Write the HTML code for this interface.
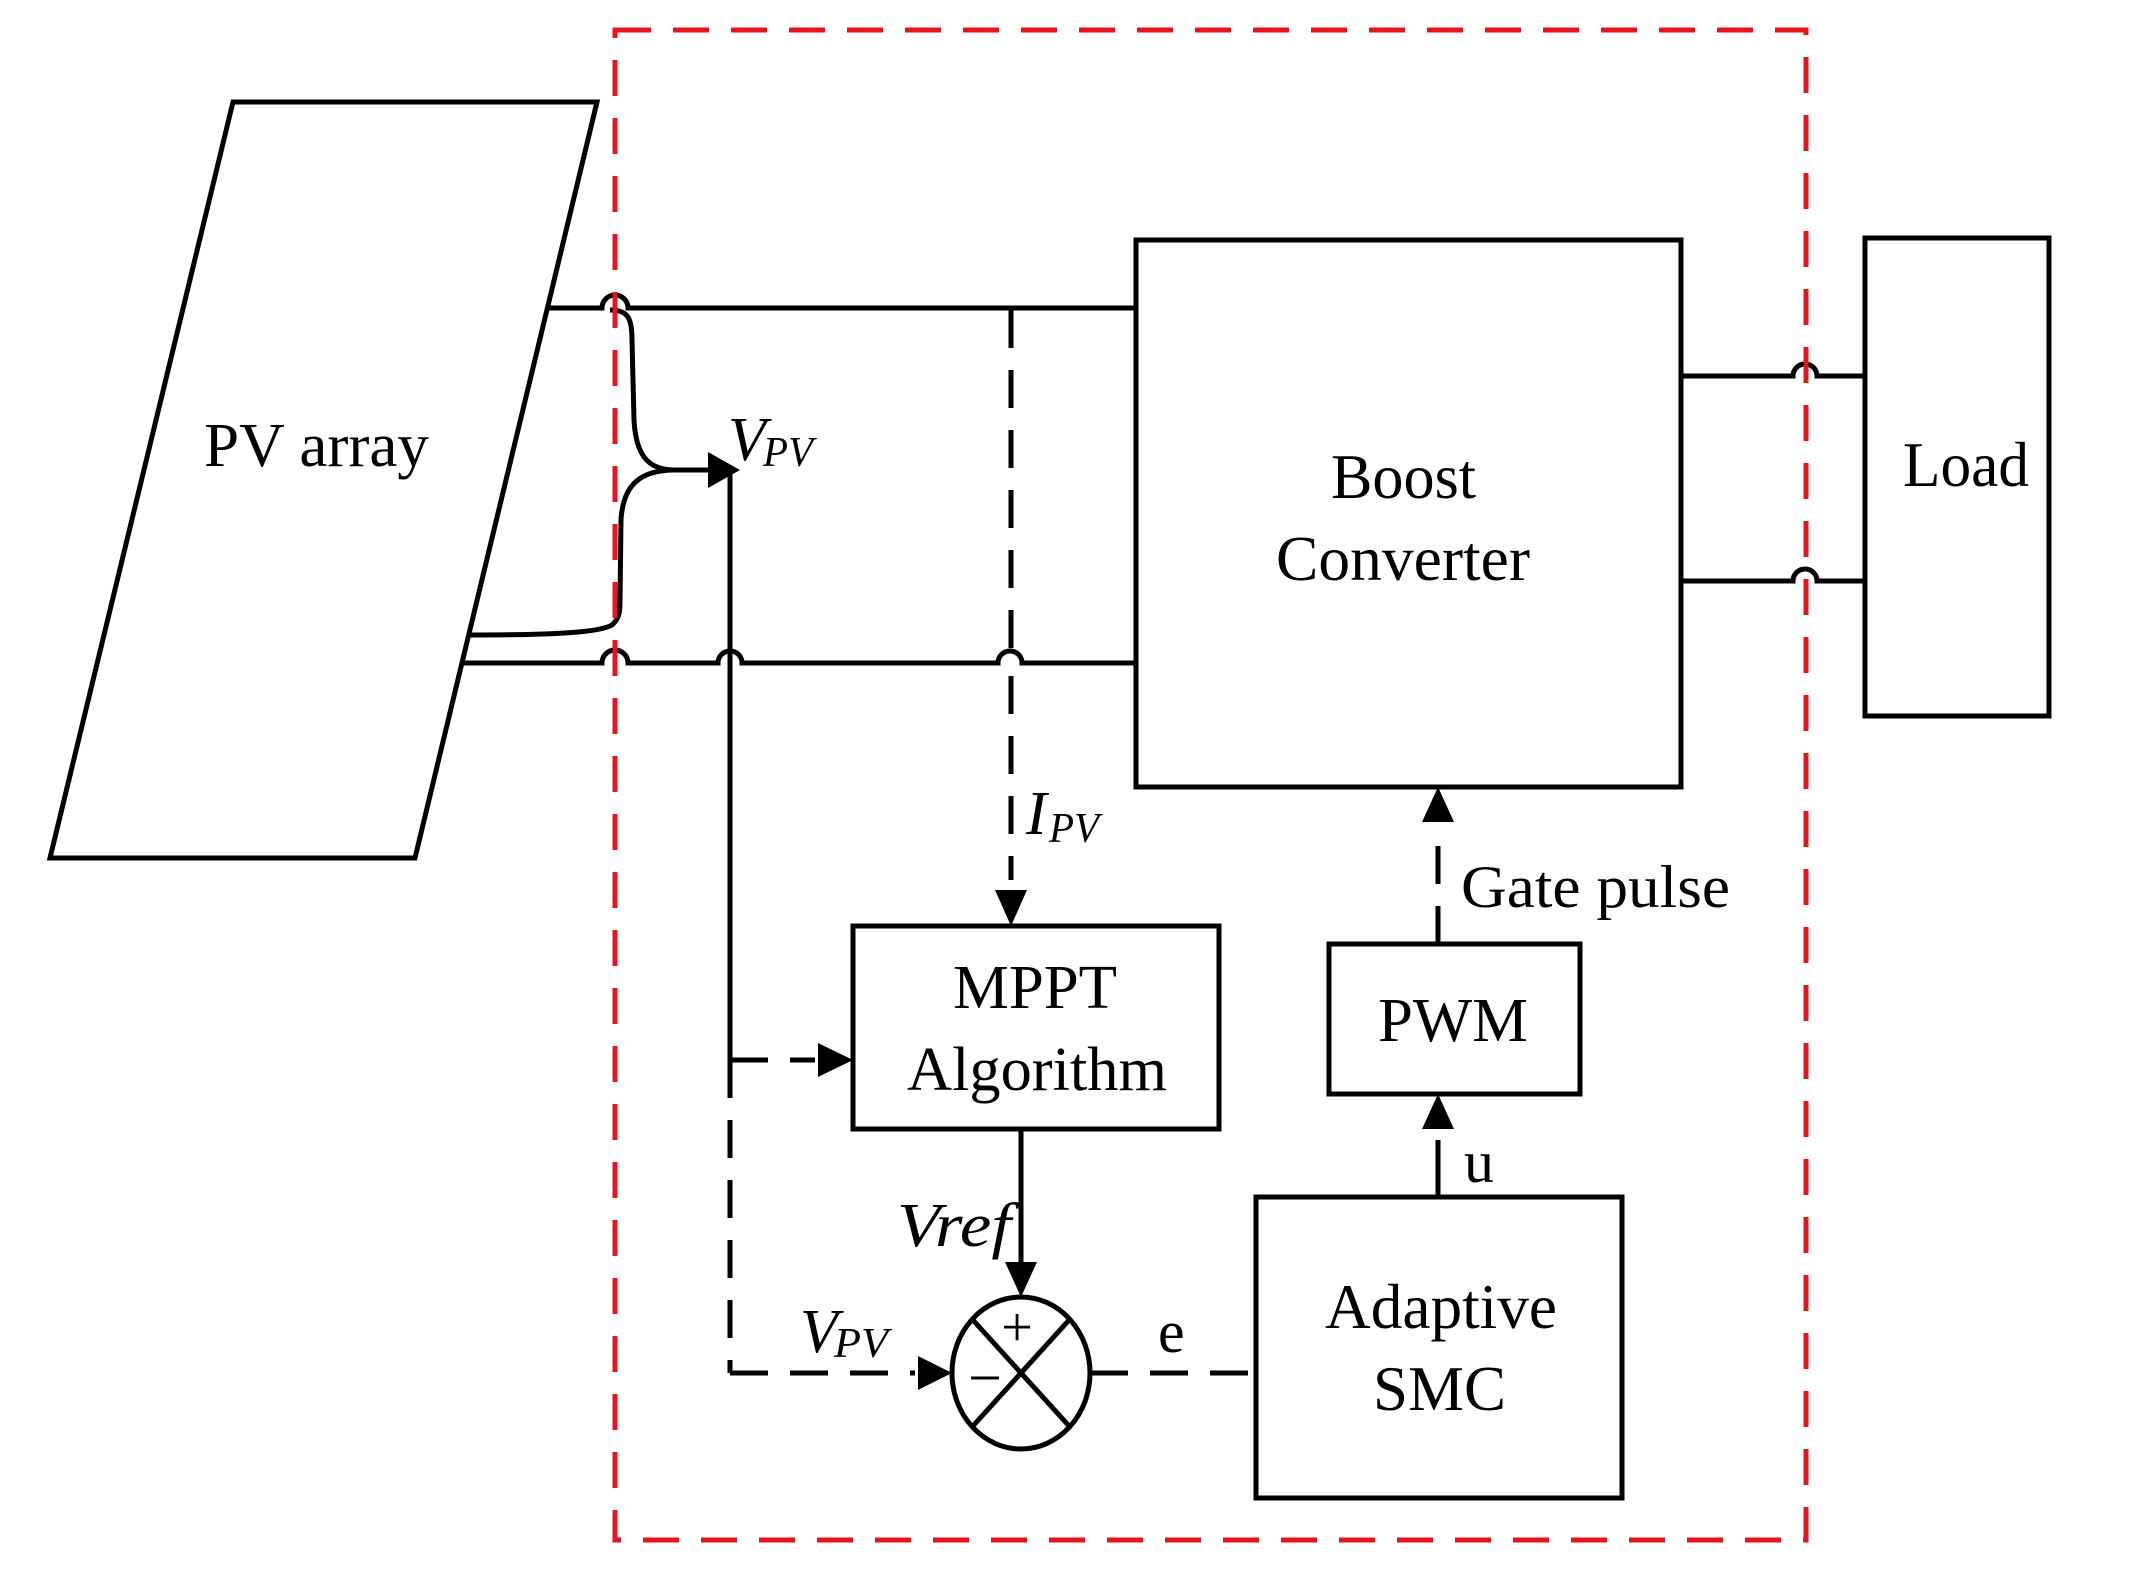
<!DOCTYPE html>
<html><head><meta charset="utf-8"><style>
html,body{margin:0;padding:0;background:#fff;}
svg{display:block;}
text{font-family:"Liberation Serif",serif;fill:#000;}
</style></head><body>
<svg width="2134" height="1570" viewBox="0 0 2134 1570" xmlns="http://www.w3.org/2000/svg">
<g fill="none" stroke="#000" stroke-width="5">
<!-- PV parallelogram -->
<polygon points="233,102 597,102 415,858 50,858"/>
<!-- top wire with hop -->
<path d="M549,308 H602 A13,13 0 0 1 628,308 H1135"/>
<!-- bottom wire with hops -->
<path d="M463,663 H602 A13,13 0 0 1 628,663 H718 A12,12 0 0 1 742,663 H998 A12,12 0 0 1 1022,663 H1135"/>
<!-- branch from top wire to junction -->
<path d="M610,310 C628,310 632,318 632,340 L634,420 C636,458 650,470 675,470"/>
<!-- branch from lower PV line -->
<path d="M470,635 C560,635 600,632 612,625 C620,618 620,610 620,600 L621,520 C623,485 640,470 675,470"/>
<line x1="675" y1="470" x2="712" y2="470"/>
<!-- vertical Vpv line solid -->
<line x1="730" y1="470" x2="730" y2="1060"/>
<!-- Boost -->
<rect x="1136" y="240" width="545" height="547"/>
<!-- Load -->
<rect x="1865" y="238" width="184" height="478"/>
<!-- output wires -->
<path d="M1681,376 H1793 A12,12 0 0 1 1817,376 H1865"/>
<path d="M1681,581 H1793 A12,12 0 0 1 1817,581 H1865"/>
<!-- MPPT -->
<rect x="853" y="926" width="366" height="203"/>
<!-- PWM -->
<rect x="1329" y="944" width="251" height="150"/>
<!-- SMC -->
<rect x="1256" y="1197" width="366" height="301"/>
<!-- Vref line -->
<line x1="1021" y1="1129" x2="1021" y2="1270"/>
<!-- u line -->
<line x1="1438" y1="1197" x2="1438" y2="1140"/>
<!-- sum circle -->
<ellipse cx="1021" cy="1373" rx="69" ry="76"/>
<line x1="972" y1="1319" x2="1070" y2="1427"/>
<line x1="1070" y1="1319" x2="972" y2="1427"/>
</g>
<!-- dashed black lines -->
<g fill="none" stroke="#000" stroke-width="5" stroke-dasharray="38,22">
<line x1="1011" y1="310" x2="1011" y2="650"/>
<line x1="1011" y1="676" x2="1011" y2="880"/>
<line x1="730" y1="1060" x2="730" y2="1373"/>
<line x1="730" y1="1060" x2="815" y2="1060"/>
<line x1="730" y1="1373" x2="915" y2="1373"/>
<line x1="1090" y1="1373" x2="1256" y2="1373"/>
<line x1="1438" y1="944" x2="1438" y2="830"/>
</g>
<!-- arrowheads -->
<g fill="#000" stroke="none">
<polygon points="740,470 708,452 708,488"/>
<polygon points="1011,926 995,890 1027,890"/>
<polygon points="853,1060 818,1043 818,1077"/>
<polygon points="1021,1297 1005,1262 1037,1262"/>
<polygon points="952,1373 918,1356 918,1390"/>
<polygon points="1438,787 1422,822 1454,822"/>
<polygon points="1438,1094 1422,1129 1454,1129"/>
</g>
<!-- red dashed box -->
<rect x="615" y="30" width="1191" height="1510" fill="none" stroke="#e8141b" stroke-width="5" stroke-dasharray="36,22"/>
<!-- labels -->
<text x="204" y="466" font-size="62" textLength="225" lengthAdjust="spacingAndGlyphs">PV array</text>
<text x="1331" y="498" font-size="64" textLength="145" lengthAdjust="spacingAndGlyphs">Boost</text>
<text x="1276" y="580" font-size="64" textLength="254" lengthAdjust="spacingAndGlyphs">Converter</text>
<text x="1903" y="486" font-size="64" textLength="126" lengthAdjust="spacingAndGlyphs">Load</text>
<text x="953" y="1008" font-size="62" textLength="164" lengthAdjust="spacingAndGlyphs">MPPT</text>
<text x="907" y="1090" font-size="62" textLength="260" lengthAdjust="spacingAndGlyphs">Algorithm</text>
<text x="1378" y="1041" font-size="62" textLength="150" lengthAdjust="spacingAndGlyphs">PWM</text>
<text x="1461" y="907" font-size="60" textLength="269" lengthAdjust="spacingAndGlyphs">Gate pulse</text>
<text x="1464" y="1182" font-size="60">u</text>
<text x="1325" y="1328" font-size="64" textLength="232" lengthAdjust="spacingAndGlyphs">Adaptive</text>
<text x="1373" y="1410" font-size="64" textLength="133" lengthAdjust="spacingAndGlyphs">SMC</text>
<text x="1158" y="1352" font-size="60">e</text>
<text x="897" y="1246" font-size="62" font-style="italic" textLength="114" lengthAdjust="spacingAndGlyphs">Vref</text>
<text x="1017" y="1346" font-size="56" text-anchor="middle">+</text>
<text x="985" y="1398" font-size="60" text-anchor="middle">−</text>
<text x="728" y="460" font-size="62" font-style="italic">V</text>
<text x="763" y="466" font-size="42" font-style="italic" textLength="50" lengthAdjust="spacingAndGlyphs">PV</text>
<text x="1026" y="834" font-size="62" font-style="italic">I</text>
<text x="1049" y="842" font-size="42" font-style="italic" textLength="50" lengthAdjust="spacingAndGlyphs">PV</text>
<text x="800" y="1352" font-size="62" font-style="italic">V</text>
<text x="834" y="1357" font-size="42" font-style="italic" textLength="54" lengthAdjust="spacingAndGlyphs">PV</text>
</svg>
</body></html>
